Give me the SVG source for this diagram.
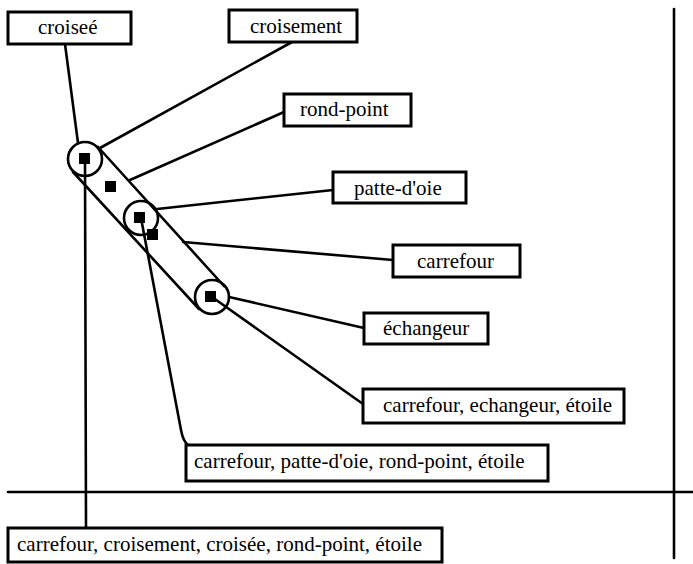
<svg xmlns="http://www.w3.org/2000/svg" width="693" height="564" viewBox="0 0 693 564">
<style>
.box rect{fill:#fff;stroke:#000;stroke-width:3}
.box text{font-size:21px;fill:#000;font-family:"Liberation Serif","Tinos","Times New Roman","DejaVu Serif","Noto Serif",serif}
.ln{stroke:#000;stroke-width:2.6;fill:none;stroke-linecap:round}
.ring{fill:none;stroke:#000;stroke-width:2.6}
.dot{fill:#000}
</style>
<rect width="693" height="564" fill="#fff"/>
<g id="axes">
<line class="ln" x1="8" y1="492" x2="693" y2="492"/>
<line class="ln" x1="674" y1="9" x2="674" y2="558"/>
</g>
<g id="connectors">
<line class="ln" x1="65" y1="44" x2="78" y2="143"/>
<line class="ln" x1="292" y1="42" x2="100" y2="148"/>
<line class="ln" x1="284" y1="112" x2="130" y2="180"/>
<line class="ln" x1="333" y1="190" x2="157" y2="209"/>
<line class="ln" x1="393" y1="260" x2="183" y2="242"/>
<line class="ln" x1="229" y1="297" x2="364" y2="328"/>
<line class="ln" x1="212" y1="297" x2="363" y2="404"/>
<path class="ln" d="M141 218 L181 430 Q183 441 188 445"/>
<line class="ln" x1="85" y1="159" x2="86" y2="528"/>
</g>
<g id="band">
<line class="ln" x1="98" y1="147" x2="224" y2="286"/>
<line class="ln" x1="73" y1="172" x2="199" y2="309"/>
</g>
<g id="point1">
<circle class="ring" cx="85" cy="159" r="17"/>
<rect class="dot" x="79" y="153" width="11" height="11"/>
</g>
<g id="point-extra1"><rect class="dot" x="105" y="181" width="11" height="11"/></g>
<g id="point2">
<circle class="ring" cx="141" cy="218" r="17"/>
<rect class="dot" x="134" y="212" width="11" height="11"/>
</g>
<g id="point-extra2"><rect class="dot" x="147" y="229" width="11" height="11"/></g>
<g id="point3">
<circle class="ring" cx="212" cy="297" r="17"/>
<rect class="dot" x="205" y="291" width="11" height="11"/>
</g>
<g id="n-croisee" class="box"><rect x="8" y="12" width="123" height="32"/><text x="38" y="34">croiseé</text></g>
<g id="n-croisement" class="box"><rect x="229" y="10" width="128" height="32"/><text x="250" y="33">croisement</text></g>
<g id="n-rondpoint" class="box"><rect x="284" y="94" width="127" height="32"/><text x="300" y="116">rond-point</text></g>
<g id="n-pattedoie" class="box"><rect x="333" y="172" width="133" height="31"/><text x="354" y="195">patte-d'oie</text></g>
<g id="n-carrefour" class="box"><rect x="393" y="245" width="127" height="32"/><text x="417" y="268">carrefour</text></g>
<g id="n-echangeur" class="box"><rect x="364" y="313" width="124" height="31"/><text x="383" y="335">échangeur</text></g>
<g id="n-cee" class="box"><rect x="363" y="389" width="261" height="34"/><text x="383" y="412">carrefour, echangeur, étoile</text></g>
<g id="n-cpre" class="box"><rect x="186" y="445" width="362" height="36"/><text x="194" y="468">carrefour, patte-d'oie, rond-point, étoile</text></g>
<g id="n-ccc" class="box"><rect x="8" y="528" width="434" height="34"/><text x="17" y="551">carrefour, croisement, croisée, rond-point, étoile</text></g>
</svg>
